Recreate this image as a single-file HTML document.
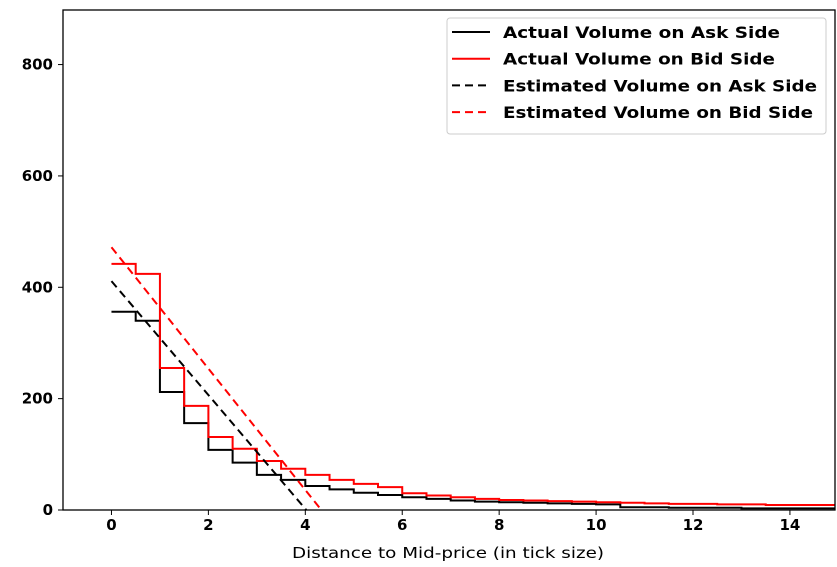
<!DOCTYPE html>
<html><head><meta charset="utf-8"><style>body{margin:0;background:#fff}svg{display:block}</style></head>
<body>
<svg id="chart" width="837" height="567" xmlns="http://www.w3.org/2000/svg" font-family="DejaVu Sans, Liberation Sans, sans-serif"></svg>
<script>
const stepStarts=[0,0.5,1,1.5,2,2.5,3,3.5,4,4.5,5,5.5,6,6.5,7,7.5,8,8.5,9,9.5,10,10.5,11,11.5,12,12.5,13,13.5,14,14.5];
const askVolume=[356,340,212,156,108,85,63,54,43,37,31,27,23,20,17,15,14,13,12,11,10,5,5,4,4,4,3,3,3,3];
const bidVolume=[442,424,255,187,131,110,88,74,63,54,47,41,30,26,23,20,18,17,16,15,14,13,12,11,11,10,10,9,9,9];
const estAsk=[[0,411],[4.02,0]];
const estBid=[[0,472],[4.33,0]];
const xTicks=[0,2,4,6,8,10,12,14];
const yTicks=[0,200,400,600,800];
const L=63,R=835,T=10,B=510,xmin=-1,xmax=14.93,ymin=0,ymax=898;
const X=v=>L+(v-xmin)/(xmax-xmin)*(R-L);
const Y=v=>B-(v-ymin)/(ymax-ymin)*(B-T);
const svg=document.getElementById('chart');
const NS='http://www.w3.org/2000/svg';
function mk(tag,attrs,parent){const e=document.createElementNS(NS,tag);for(const k in attrs)e.setAttribute(k,attrs[k]);(parent||svg).appendChild(e);return e;}
const clip=mk('clipPath',{id:'pc'});mk('rect',{x:L,y:T,width:R-L,height:B-T},clip);
function stepPath(vals){let d='';stepStarts.forEach((s,i)=>{const x0=X(s),x1=X(s+0.5),y=Y(vals[i]);d+=(i?'L':'M')+x0+','+y+'L'+x1+','+y;});return d;}
let p=mk('path',{d:stepPath(askVolume),fill:'none',stroke:'#000','stroke-width':2,'clip-path':'url(#pc)'});

p=mk('path',{d:stepPath(bidVolume),fill:'none',stroke:'#f00','stroke-width':2,'clip-path':'url(#pc)'});

p=mk('line',{x1:X(estAsk[0][0]),y1:Y(estAsk[0][1]),x2:X(estAsk[1][0]),y2:Y(estAsk[1][1]),stroke:'#000','stroke-width':2,'stroke-dasharray':'8,5'});

p=mk('line',{x1:X(estBid[0][0]),y1:Y(estBid[0][1]),x2:X(estBid[1][0]),y2:Y(estBid[1][1]),stroke:'#f00','stroke-width':2,'stroke-dasharray':'8,5'});

p=mk('rect',{x:L,y:T,width:R-L,height:B-T,fill:'none',stroke:'#000','stroke-width':1.3});

xTicks.forEach(t=>{const x=X(t);mk('line',{x1:x,y1:B,x2:x,y2:B+5,stroke:'#000'});
 const tx=mk('text',{x:x,y:B+20,'text-anchor':'middle','font-size':15,'font-weight':'bold'});tx.textContent=t;
 });
yTicks.forEach(t=>{const y=Y(t);mk('line',{x1:L-5,y1:y,x2:L,y2:y,stroke:'#000'});
 const tx=mk('text',{x:L-10,y:y+5,'text-anchor':'end','font-size':15,'font-weight':'bold'});tx.textContent=t;
 });
let xl=mk('text',{x:292,y:558,'font-size':15,textLength:312,lengthAdjust:'spacingAndGlyphs'});xl.textContent='Distance to Mid-price (in tick size)';

const lg=mk('g',{});
mk('rect',{x:447,y:18,width:379,height:116,rx:3,fill:'#fff',stroke:'#ccc'},lg);
const legendLabels=['Actual Volume on Ask Side','Actual Volume on Bid Side','Estimated Volume on Ask Side','Estimated Volume on Bid Side'];
const legendWidths=[277,272,314,310];
const legendColors=['#000','#f00','#000','#f00'];
legendLabels.forEach((lab,i)=>{const y=32+i*26.7;const g=mk('g',{},lg);
 
 mk('line',{x1:452,y1:y,x2:490,y2:y,stroke:legendColors[i],'stroke-width':2,'stroke-dasharray':i>1?'8,5':'none'},g);
 const t=mk('text',{x:503,y:y+6,'font-size':16,'font-weight':'bold',textLength:legendWidths[i],lengthAdjust:'spacingAndGlyphs'},g);t.textContent=lab;});
</script>
</body></html>
